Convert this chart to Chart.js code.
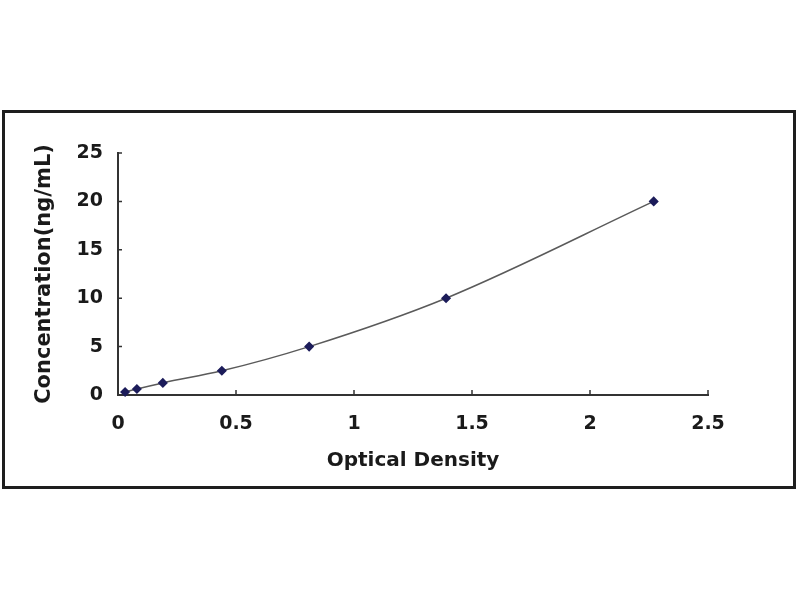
<!DOCTYPE html>
<html>
<head>
<meta charset="utf-8">
<script src="https://cdn.jsdelivr.net/npm/chart.js@4"></script>
<style>
  body { margin: 0; background: #fff; }
  #frame {
    position: absolute; left: 2px; top: 110px;
    width: 794px; height: 379px;
    border: 3px solid #1e1e1e; box-sizing: border-box;
  }
</style>
</head>
<body>
<div id="frame"><canvas id="curve"></canvas></div>
<script>
// standard curve readings
var opticalDensity = [0.03, 0.08, 0.19, 0.44, 0.81, 1.39, 2.27];
var concentration = [0.312, 0.625, 1.25, 2.5, 5, 10, 20];
var xTicks = [0, 0.5, 1, 1.5, 2, 2.5];
var yTicks = [0, 5, 10, 15, 20, 25];

var points = opticalDensity.map(function (x, i) { return { x: x, y: concentration[i] }; });

var fontFamily = '"DejaVu Sans", Arial, sans-serif';

// short tick marks pointing into the plot, like the original
var innerTicks = {
  id: 'innerTicks',
  afterDraw: function (chart) {
    var ctx = chart.ctx, xs = chart.scales.x, ys = chart.scales.y;
    ctx.save();
    ctx.strokeStyle = '#333';
    ctx.lineWidth = 1.5;
    ctx.beginPath();
    xTicks.forEach(function (v) {
      if (v === 0) return;
      var px = xs.getPixelForValue(v);
      ctx.moveTo(px, ys.bottom);
      ctx.lineTo(px, ys.bottom - 5);
    });
    yTicks.forEach(function (v) {
      if (v === 0) return;
      var py = ys.getPixelForValue(v);
      ctx.moveTo(xs.left, py);
      ctx.lineTo(xs.left + 4, py);
    });
    ctx.stroke();
    ctx.restore();
  }
};

new Chart(document.getElementById('curve'), {
  type: 'scatter',
  data: {
    datasets: [{
      label: 'Standard curve',
      data: points,
      showLine: true,
      cubicInterpolationMode: 'monotone',
      borderColor: '#5a5a5a',
      borderWidth: 1.5,
      pointStyle: 'rectRot',
      pointRadius: 4,
      pointBackgroundColor: '#1c1c5a',
      pointBorderColor: '#1c1c5a',
      clip: false
    }]
  },
  options: {
    responsive: true,
    maintainAspectRatio: false,
    animation: false,
    layout: { padding: { top: 40, right: 85, left: 0, bottom: 0 } },
    plugins: {
      legend: { display: false },
      tooltip: { enabled: false }
    },
    scales: {
      x: {
        type: 'linear',
        min: 0, max: 2.5,
        afterBuildTicks: function (s) { s.ticks = xTicks.map(function (v) { return { value: v }; }); },
        afterFit: function (s) { s.height = 91; },
        grid: { drawOnChartArea: false, drawTicks: false },
        border: { display: true, color: '#333', width: 2 },
        ticks: {
          padding: 18,
          color: '#1a1a1a',
          font: { family: fontFamily, size: 19, weight: 'bold' },
          maxRotation: 0,
          callback: function (v) { return String(v); }
        },
        title: {
          display: true,
          text: 'Optical Density',
          color: '#1a1a1a',
          font: { family: fontFamily, size: 20, weight: 'bold' },
          padding: { top: 0, bottom: 13 }
        }
      },
      y: {
        type: 'linear',
        min: 0, max: 25,
        afterBuildTicks: function (s) { s.ticks = yTicks.map(function (v) { return { value: v }; }); },
        afterFit: function (s) { s.width = 113; },
        grid: { drawOnChartArea: false, drawTicks: false },
        border: { display: true, color: '#333', width: 2 },
        ticks: {
          padding: 15,
          color: '#1a1a1a',
          font: { family: fontFamily, size: 19, weight: 'bold' },
          callback: function (v) { return String(v); }
        },
        title: {
          display: true,
          text: 'Concentration(ng/mL)',
          color: '#1a1a1a',
          font: { family: fontFamily, size: 21, weight: 'bold' },
          padding: { top: 27, bottom: 0 }
        }
      }
    }
  },
  plugins: [innerTicks]
});
</script>
</body>
</html>
